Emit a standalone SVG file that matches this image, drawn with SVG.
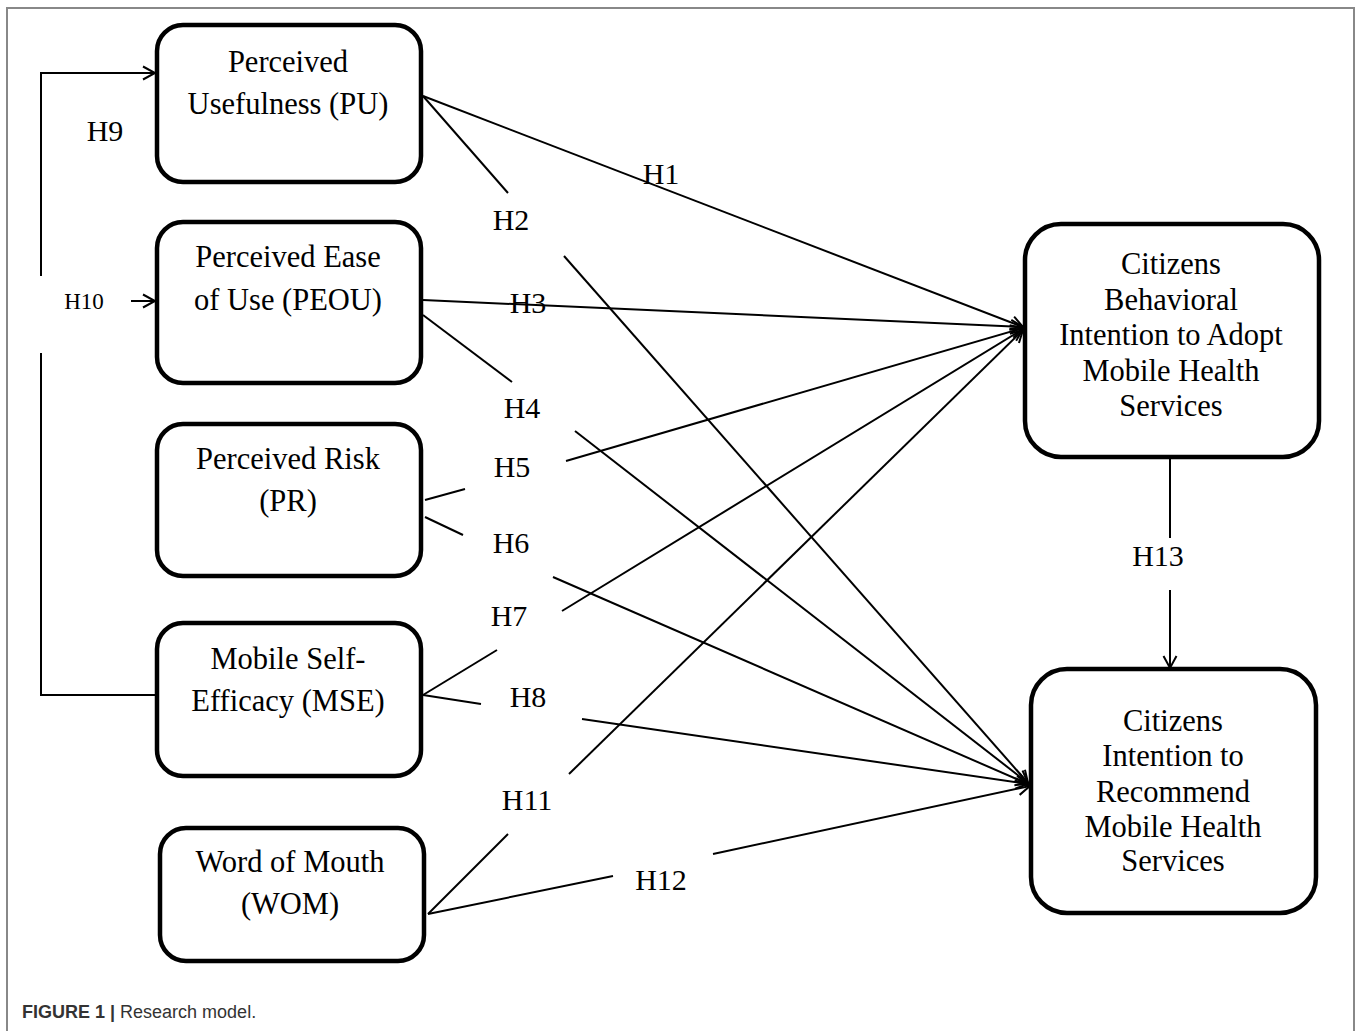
<svg xmlns="http://www.w3.org/2000/svg" width="1358" height="1031" viewBox="0 0 1358 1031">
<style>
.box{fill:#fff;stroke:#000;stroke-width:4.5}
.t{font-family:"Liberation Serif","Times New Roman",serif;font-size:30.5px;fill:#000;text-anchor:middle}
.h{font-family:"Liberation Serif","Times New Roman",serif;font-size:30px;fill:#000;text-anchor:middle}
.c{stroke:#000;stroke-width:2;fill:none}
.cap{font-family:"Liberation Sans",Arial,sans-serif;font-size:18px;fill:#333}
</style>
<defs>
<marker id="ar" markerUnits="userSpaceOnUse" markerWidth="16" markerHeight="16" refX="13" refY="7" orient="auto" viewBox="0 0 16 14">
<path d="M1,0.5 L13,7 L1,13.5" fill="none" stroke="#000" stroke-width="2"/>
</marker>
</defs>
<rect x="0" y="0" width="1358" height="1031" fill="#fff"/>
<path d="M7,1031 V8 H1354 V1031" fill="none" stroke="#888" stroke-width="2"/>

<g id="connectors">
<polyline class="c" points="41,276 41,73 155,73" marker-end="url(#ar)"/>
<polyline class="c" points="41,353 41,695 157,695"/>
<line class="c" x1="131" y1="301" x2="155" y2="301" marker-end="url(#ar)"/>

<line class="c" x1="423" y1="96" x2="1023" y2="327" marker-end="url(#ar)"/>
<line class="c" x1="423" y1="96" x2="508" y2="193"/>
<line class="c" x1="564" y1="256" x2="1028" y2="783" marker-end="url(#ar)"/>
<line class="c" x1="423" y1="300" x2="1023" y2="327" marker-end="url(#ar)"/>
<line class="c" x1="423" y1="315" x2="512" y2="382"/>
<line class="c" x1="575" y1="431" x2="1028" y2="783" marker-end="url(#ar)"/>
<line class="c" x1="425" y1="500" x2="465" y2="489"/>
<line class="c" x1="566" y1="461" x2="1023" y2="328" marker-end="url(#ar)"/>
<line class="c" x1="425" y1="517" x2="463" y2="535"/>
<line class="c" x1="553" y1="577" x2="1028" y2="784" marker-end="url(#ar)"/>
<line class="c" x1="423" y1="695" x2="497" y2="650"/>
<line class="c" x1="562" y1="611" x2="1023" y2="329" marker-end="url(#ar)"/>
<line class="c" x1="423" y1="695" x2="481" y2="704"/>
<line class="c" x1="582" y1="719" x2="1028" y2="784" marker-end="url(#ar)"/>
<line class="c" x1="428" y1="914" x2="508" y2="834"/>
<line class="c" x1="569" y1="774" x2="1023" y2="330" marker-end="url(#ar)"/>
<line class="c" x1="428" y1="914" x2="613" y2="876"/>
<line class="c" x1="713" y1="854" x2="1030" y2="786" marker-end="url(#ar)"/>
<line class="c" x1="1170" y1="457" x2="1170" y2="538"/>
<line class="c" x1="1170" y1="590" x2="1170" y2="668" marker-end="url(#ar)"/>

<text class="h" x="105" y="141">H9</text>
<text class="h" x="84" y="309" style="font-size:23px">H10</text>
<text class="h" x="661" y="184">H1</text>
<text class="h" x="511" y="230">H2</text>
<text class="h" x="528" y="313">H3</text>
<text class="h" x="522" y="418">H4</text>
<text class="h" x="512" y="477">H5</text>
<text class="h" x="511" y="553">H6</text>
<text class="h" x="509" y="626">H7</text>
<text class="h" x="528" y="707">H8</text>
<text class="h" x="527" y="810">H11</text>
<text class="h" x="661" y="890">H12</text>
<text class="h" x="1158" y="566">H13</text>
</g>

<g id="pu">
<rect class="box" x="157" y="25" width="264" height="157" rx="26"/>
<text class="t" x="288" y="72">Perceived</text>
<text class="t" x="288" y="114">Usefulness (PU)</text>
</g>
<g id="peou">
<rect class="box" x="157" y="222" width="264" height="161" rx="26"/>
<text class="t" x="288" y="267">Perceived Ease</text>
<text class="t" x="288" y="310">of Use (PEOU)</text>
</g>
<g id="pr">
<rect class="box" x="157" y="424" width="264" height="152" rx="26"/>
<text class="t" x="288" y="469">Perceived Risk</text>
<text class="t" x="288" y="511">(PR)</text>
</g>
<g id="mse">
<rect class="box" x="157" y="623" width="264" height="153" rx="26"/>
<text class="t" x="288" y="669">Mobile Self-</text>
<text class="t" x="288" y="711">Efficacy (MSE)</text>
</g>
<g id="wom">
<rect class="box" x="160" y="828" width="264" height="133" rx="26"/>
<text class="t" x="290" y="872">Word of Mouth</text>
<text class="t" x="290" y="914">(WOM)</text>
</g>
<g id="cbi">
<rect class="box" x="1025" y="224" width="294" height="233" rx="36"/>
<text class="t" x="1171" y="274">Citizens</text>
<text class="t" x="1171" y="310">Behavioral</text>
<text class="t" x="1171" y="345">Intention to Adopt</text>
<text class="t" x="1171" y="381">Mobile Health</text>
<text class="t" x="1171" y="416">Services</text>
</g>
<g id="cir">
<rect class="box" x="1031" y="669" width="285" height="244" rx="36"/>
<text class="t" x="1173" y="731">Citizens</text>
<text class="t" x="1173" y="766">Intention to</text>
<text class="t" x="1173" y="802">Recommend</text>
<text class="t" x="1173" y="837">Mobile Health</text>
<text class="t" x="1173" y="871">Services</text>
</g>

<text class="cap" x="22" y="1018"><tspan font-weight="bold">FIGURE 1 |</tspan> Research model.</text>
</svg>
